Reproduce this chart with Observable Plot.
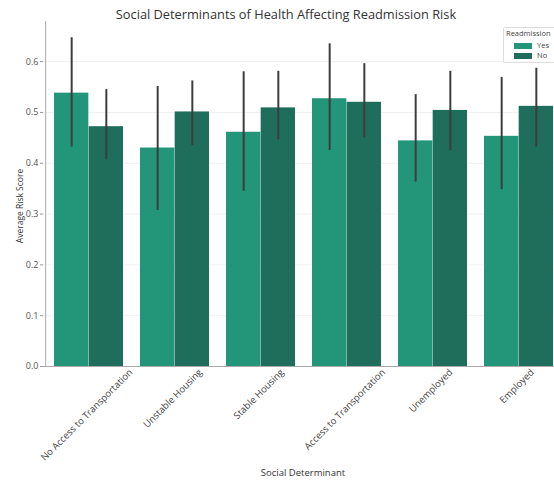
<!DOCTYPE html>
<html>
<head>
<meta charset="utf-8">
<script src="https://cdn.jsdelivr.net/npm/d3@7"></script>
<script src="https://cdn.jsdelivr.net/npm/@observablehq/plot@0.6"></script>
<style>
  html, body { margin: 0; padding: 0; background: #fff; }
  #wrap { position: relative; width: 554px; height: 483px; overflow: hidden; font-family: "Open Sans", sans-serif; }
  #chart { width: 575px; }
  #chart svg { max-width: none !important; }
  #title { position: absolute; left: 0; width: 572px; top: 5px; text-align: center; font-size: 12.8px; color: #333; line-height: 18px; }
  #xlabel { position: absolute; left: 0; width: 606px; top: 466px; text-align: center; font-size: 9.5px; color: #333; line-height: 14px; }
  #ylabel { position: absolute; left: 20px; top: 206px; transform: translate(-50%, -50%) rotate(-90deg); white-space: nowrap; font-size: 8.5px; color: #333; line-height: 10px; }
  #legend { position: absolute; left: 503px; top: 27px; width: 72px; height: 34px; border: 1px solid #ddd; border-radius: 2px; background: rgba(255,255,255,0.85); font-size: 7.5px; color: #444; line-height: 9px; }
  #legend .t { position: absolute; left: 2px; top: 1px; }
  #legend .row { position: absolute; left: 10px; display: flex; align-items: center; }
  #legend .sw { width: 18px; height: 6px; margin-right: 5px; }
</style>
</head>
<body>
<div id="wrap">
  <div id="chart"></div>
  <div id="title">Social Determinants of Health Affecting Readmission Risk</div>
  <div id="xlabel">Social Determinant</div>
  <div id="ylabel">Average Risk Score</div>
  <div id="legend"></div>
</div>
<script>
const categories = ["No Access to Transportation", "Unstable Housing", "Stable Housing", "Access to Transportation", "Unemployed", "Employed"];
const series = ["Yes", "No"];
const colors = ["#23967a", "#1e6e5b"];
const yesMean = [0.538, 0.430, 0.461, 0.527, 0.444, 0.453];
const yesLow  = [0.432, 0.307, 0.345, 0.425, 0.363, 0.348];
const yesHigh = [0.647, 0.551, 0.580, 0.635, 0.535, 0.569];
const noMean  = [0.472, 0.501, 0.509, 0.520, 0.504, 0.512];
const noLow   = [0.407, 0.435, 0.446, 0.450, 0.424, 0.432];
const noHigh  = [0.545, 0.562, 0.581, 0.596, 0.581, 0.587];
const yTicks = [0, 0.1, 0.2, 0.3, 0.4, 0.5, 0.6];

const yes = categories.map((c, i) => ({cat: c, mean: yesMean[i], low: yesLow[i], high: yesHigh[i]}));
const no  = categories.map((c, i) => ({cat: c, mean: noMean[i], low: noLow[i], high: noHigh[i]}));

const W = 575, mL = 43, mR = 12;
const step = (W - mL - mR) / categories.length;
const bw = step * 0.8;
const half = bw / 2;

// measure tick label widths to center rotated labels under ticks
const ctx = document.createElement("canvas").getContext("2d");
const fs = 9.5;
ctx.font = `${fs}px "Open Sans"`;
const s45 = Math.SQRT1_2;

const labelMarks = categories.map(c => {
  const w = ctx.measureText(c).width;
  const dy = 3 + (w / 2) * s45 + (fs / 2) * s45;
  return Plot.text([c], {x: d => d, frameAnchor: "bottom", dy, rotate: -45, textAnchor: "middle", fontSize: fs, fill: "#444"});
});

const chart = Plot.plot({
  width: W, height: 483,
  marginLeft: mL, marginRight: mR, marginTop: 21, marginBottom: 117,
  style: {fontFamily: "Open Sans", background: "transparent", maxWidth: "none"},
  x: {domain: categories, paddingInner: 0.2, paddingOuter: 0.1, axis: null},
  y: {domain: [0, 0.679], axis: null},
  marks: [
    Plot.ruleY(yTicks, {stroke: "#ececec", strokeWidth: 0.8}),
    Plot.barY(yes, {x: "cat", y: "mean", fill: colors[0], insetRight: half}),
    Plot.barY(no, {x: "cat", y: "mean", fill: colors[1], insetLeft: half}),
    Plot.ruleX(yes, {x: "cat", y1: "low", y2: "high", stroke: "#3d3d3d", strokeWidth: 2, dx: -half / 2}),
    Plot.ruleX(no, {x: "cat", y1: "low", y2: "high", stroke: "#3d3d3d", strokeWidth: 2, dx: half / 2}),
    Plot.axisY({ticks: yTicks, tickFormat: d3.format(".1f"), tickSize: 3, tickPadding: 2, fontSize: 9, color: "#555", stroke: "#999", label: null}),
    Plot.ruleX([0], {x: () => categories[0], dx: -step / 2, stroke: "#aaa", strokeWidth: 1}),
    Plot.ruleY([0], {stroke: "#aaa", strokeWidth: 1}),
    ...labelMarks
  ]
});
document.getElementById("chart").appendChild(chart);

const lg = document.getElementById("legend");
lg.innerHTML = `<div class="t">Readmission</div>` + series.map((s, i) =>
  `<div class="row" style="top:${13 + i * 10}px"><div class="sw" style="background:${colors[i]}"></div>${s}</div>`).join("");
</script>
</body>
</html>
